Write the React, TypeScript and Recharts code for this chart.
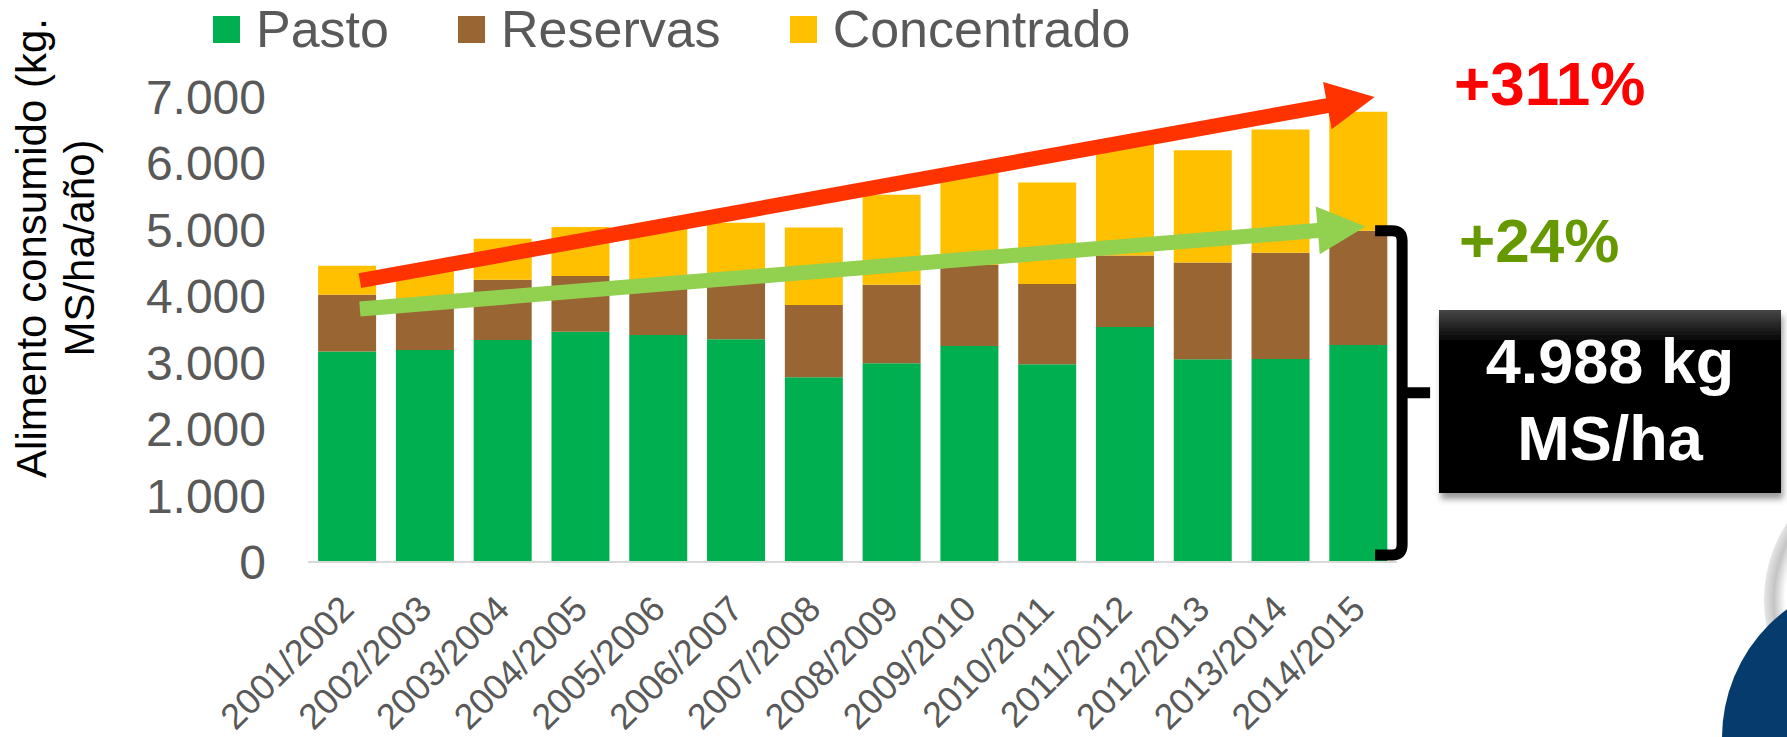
import React from 'react';
import { BarChart, Bar, XAxis, YAxis, Legend, ReferenceLine } from 'recharts';

// ---------- data ----------
const categories = [
  '2001/2002', '2002/2003', '2003/2004', '2004/2005', '2005/2006', '2006/2007', '2007/2008',
  '2008/2009', '2009/2010', '2010/2011', '2011/2012', '2012/2013', '2013/2014', '2014/2015',
];
const pasto = [3170, 3190, 3343, 3468, 3418, 3353, 2782, 2992, 3253, 2977, 3538, 3053, 3057, 3265];
const reservas = [854, 660, 905, 837, 732, 877, 1088, 1181, 1217, 1208, 1076, 1455, 1599, 1723];
const concentrado = [435, 600, 620, 737, 930, 877, 1165, 1355, 1410, 1527, 1706, 1692, 1855, 1789];
const yTicks = [0, 1000, 2000, 3000, 4000, 5000, 6000, 7000];
const seriesNames = ['Pasto', 'Reservas', 'Concentrado'];

// annotation values
const redTrend = [4235, 7000];
const greenTrend = [3810, 5050];
const bracketTop = 4988;
const labelConcentrado = '+311%';
const labelPastoReservas = '+24%';
const boxLines = ['4.988 kg', 'MS/ha'];
const yTitleLines = ['Alimento consumido (kg.', 'MS/ha/año)'];

const data = categories.map((c, i) => ({
  year: c,
  pasto: pasto[i],
  reservas: reservas[i],
  concentrado: concentrado[i],
}));

const FONT = '"Liberation Sans", Arial, sans-serif';
const GREY = '#595959';
const COLORS = ['#00B050', '#996633', '#FFC000'];

const fmt = (v: number) => (v === 0 ? '0' : `${Math.round(v / 1000)}.000`);

const XTick = (props: any) => {
  const { x, y, payload } = props;
  const ax = x - 9;
  const ay = y + 31;
  return (
    <text
      x={ax}
      y={ay}
      dy="0.71em"
      textAnchor="end"
      transform={`rotate(-45, ${ax}, ${ay})`}
      fill={GREY}
      fontSize={36}
      fontFamily={FONT}
    >
      {payload.value}
    </text>
  );
};

function arrowPolygon(tx: number, ty: number, hx: number, hy: number) {
  const shaft = 15;
  const headLen = 48;
  const headW = 48;
  const dx = hx - tx;
  const dy = hy - ty;
  const len = Math.sqrt(dx * dx + dy * dy);
  const ux = dx / len;
  const uy = dy / len;
  const nx = -uy;
  const ny = ux;
  const bx = hx - ux * headLen;
  const by = hy - uy * headLen;
  const pts = [
    [tx + nx * shaft / 2, ty + ny * shaft / 2],
    [bx + nx * shaft / 2, by + ny * shaft / 2],
    [bx + nx * headW / 2, by + ny * headW / 2],
    [hx, hy],
    [bx - nx * headW / 2, by - ny * headW / 2],
    [bx - nx * shaft / 2, by - ny * shaft / 2],
    [tx - nx * shaft / 2, ty - ny * shaft / 2],
  ];
  return pts.map((p) => `${p[0]},${p[1]}`).join(' ');
}

const makeArrow = (color: string, tailDx: number, tipDx: number) => (p: any) => (
  <polygon
    points={arrowPolygon(Number(p.x1) + tailDx, Number(p.y1), Number(p.x2) + tipDx, Number(p.y2))}
    fill={color}
  />
);

const BracketShape = (p: any) => {
  const x1 = Number(p.x1);
  const yt = Number(p.y1);
  const yb = Number(p.y2) - 7;
  const x0 = x1 + 17;
  const xv = x1 + 44;
  const xn = x1 + 72;
  const ym = (yt + yb) / 2;
  const r = 10;
  const d = `M${x0},${yt} H${xv - r} Q${xv},${yt} ${xv},${yt + r} V${yb - r} Q${xv},${yb} ${xv - r},${yb} H${x0} M${xv},${ym} H${xn}`;
  return <path d={d} fill="none" stroke="#000" strokeWidth={11} />;
};

const renderLegend = (props: any) => {
  const payload = [...(props.payload || [])].sort(
    (a: any, b: any) => seriesNames.indexOf(a.value) - seriesNames.indexOf(b.value)
  );
  return (
    <div style={{ display: 'flex', alignItems: 'center', height: 52, fontFamily: FONT }}>
      {payload.map((e: any, i: number) => (
        <div key={i} style={{ display: 'flex', alignItems: 'center', marginRight: 69 }}>
          <div style={{ width: 27, height: 27, background: e.color, marginRight: 16 }} />
          <span style={{ fontSize: 52, lineHeight: '52px', color: GREY, whiteSpace: 'nowrap' }}>{e.value}</span>
        </div>
      ))}
    </div>
  );
};

export default function App() {
  const last = categories[categories.length - 1];
  const first = categories[0];
  return (
    <div style={{ position: 'absolute', left: 0, top: 0, width: 1787, height: 737, background: '#fff', overflow: 'hidden' }}>
      <BarChart
        width={1787}
        height={737}
        data={data}
        margin={{ top: 97, right: 390, bottom: 0, left: 0 }}
        barCategoryGap="13%"
      >
        <XAxis
          dataKey="year"
          height={175}
          interval={0}
          tickLine={false}
          tickSize={0}
          tickMargin={0}
          axisLine={{ stroke: '#D9D9D9', strokeWidth: 2 }}
          tick={<XTick />}
        />
        <YAxis
          type="number"
          domain={[0, 7000]}
          ticks={yTicks}
          interval={0}
          width={308}
          axisLine={false}
          tickLine={false}
          tickSize={0}
          tickMargin={42}
          tickFormatter={fmt}
          tick={{ fill: GREY, fontSize: 48, fontFamily: FONT }}
        />
        <Legend
          layout="horizontal"
          verticalAlign="middle"
          align="center"
          wrapperStyle={{ top: 3, left: 213, width: 1200, height: 52 }}
          content={renderLegend}
        />
        <Bar dataKey="pasto" name={seriesNames[0]} stackId="s" fill={COLORS[0]} isAnimationActive={false} />
        <Bar dataKey="reservas" name={seriesNames[1]} stackId="s" fill={COLORS[1]} isAnimationActive={false} />
        <Bar dataKey="concentrado" name={seriesNames[2]} stackId="s" fill={COLORS[2]} isAnimationActive={false} />
        <ReferenceLine
          segment={[{ x: first, y: redTrend[0] }, { x: last, y: redTrend[1] }]}
          ifOverflow="visible"
          shape={makeArrow('#FF3300', 13, 16.5)}
        />
        <ReferenceLine
          segment={[{ x: first, y: greenTrend[0] }, { x: last, y: greenTrend[1] }]}
          ifOverflow="visible"
          shape={makeArrow('#92D050', 13, 7.5)}
        />
        <ReferenceLine
          segment={[{ x: last, y: bracketTop }, { x: last, y: 0 }]}
          ifOverflow="visible"
          shape={BracketShape}
        />
      </BarChart>
      <svg
        width={1787}
        height={737}
        style={{ position: 'absolute', left: 0, top: 0, pointerEvents: 'none' }}
      >
        <defs>
          <linearGradient id="boxGrad" x1="0" y1="0" x2="0" y2="1">
            <stop offset="0" stopColor="#474747" />
            <stop offset="0.18" stopColor="#000" />
            <stop offset="1" stopColor="#000" />
          </linearGradient>
          <filter id="boxShadow" x="-10%" y="-10%" width="125%" height="130%">
            <feDropShadow dx="2" dy="6" stdDeviation="3" floodColor="#000" floodOpacity="0.4" />
          </filter>
          <radialGradient id="ringGrad" cx="0.5" cy="0.5" r="0.5">
            <stop offset="0.85" stopColor="#ffffff" />
            <stop offset="0.93" stopColor="#c4c4c4" />
            <stop offset="1" stopColor="#e6e6e6" />
          </radialGradient>
        </defs>
        {/* y axis title */}
        <text
          x={46}
          y={248}
          transform="rotate(-90, 46, 248)"
          textAnchor="middle"
          fontSize={42}
          fontFamily={FONT}
          fill="#000"
        >
          {yTitleLines[0]}
        </text>
        <text
          x={94}
          y={248}
          transform="rotate(-90, 94, 248)"
          textAnchor="middle"
          fontSize={42}
          fontFamily={FONT}
          fill="#000"
        >
          {yTitleLines[1]}
        </text>
        {/* percentage labels */}
        <text x={1454} y={105} fontSize={62} fontWeight="bold" fontFamily={FONT} fill="#FF0000">
          {labelConcentrado}
        </text>
        <text x={1459} y={262} fontSize={62} fontWeight="bold" fontFamily={FONT} fill="#669900">
          {labelPastoReservas}
        </text>
        {/* total box */}
        <rect x={1439} y={310} width={342} height={183} fill="url(#boxGrad)" filter="url(#boxShadow)" />
        <text x={1610} y={383} textAnchor="middle" fontSize={63} fontWeight="bold" fontFamily={FONT} fill="#fff">
          {boxLines[0]}
        </text>
        <text x={1610} y={460} textAnchor="middle" fontSize={63} fontWeight="bold" fontFamily={FONT} fill="#fff">
          {boxLines[1]}
        </text>
        {/* partial logo at bottom right */}
        <circle cx={1905} cy={600} r={141} fill="url(#ringGrad)" />
        <circle cx={1882} cy={738} r={160} fill="#053C6D" />
      </svg>
    </div>
  );
}
